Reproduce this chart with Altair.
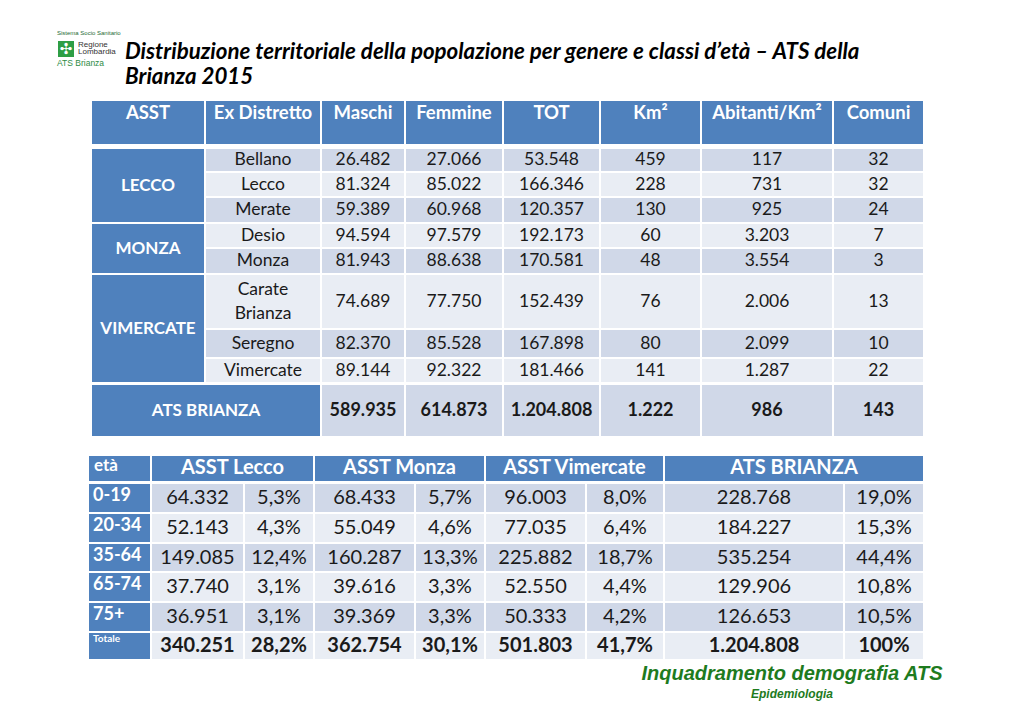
import altair as alt
import pandas as pd

# ------------------------------------------------------------------ data
top_headers = ["ASST", "Ex Distretto", "Maschi", "Femmine", "TOT", "Km²", "Abitanti/Km²", "Comuni"]
asst_groups = ["LECCO", "MONZA", "VIMERCATE"]
asst_group_rows = [(0, 3), (3, 5), (5, 8)]
districts = ["Bellano", "Lecco", "Merate", "Desio", "Monza", "Carate\nBrianza", "Seregno", "Vimercate"]
maschi = [26482, 81324, 59389, 94594, 81943, 74689, 82370, 89144]
femmine = [27066, 85022, 60968, 97579, 88638, 77750, 85528, 92322]
tot = [53548, 166346, 120357, 192173, 170581, 152439, 167898, 181466]
km2 = [459, 228, 130, 60, 48, 76, 80, 141]
abitanti_km2 = [117, 731, 925, 3203, 3554, 2006, 2099, 1287]
comuni = [32, 32, 24, 7, 3, 13, 10, 22]
ats_label = "ATS BRIANZA"
ats_totals = [589935, 614873, 1204808, 1222, 986, 143]

age_header = "età"
bottom_headers = ["ASST Lecco", "ASST Monza", "ASST Vimercate", "ATS BRIANZA"]
age_classes = ["0-19", "20-34", "35-64", "65-74", "75+"]
lecco_n = [64332, 52143, 149085, 37740, 36951]
lecco_p = [5.3, 4.3, 12.4, 3.1, 3.1]
monza_n = [68433, 55049, 160287, 39616, 39369]
monza_p = [5.7, 4.6, 13.3, 3.3, 3.3]
vimercate_n = [96003, 77035, 225882, 52550, 50333]
vimercate_p = [8.0, 6.4, 18.7, 4.4, 4.2]
ats_n = [228768, 184227, 535254, 129906, 126653]
ats_p = [19.0, 15.3, 44.4, 10.8, 10.5]
totale_label = "Totale"
totale_n = [340251, 362754, 501803, 1204808]
totale_p = [28.2, 30.1, 41.7, 100]

title_lines = ["Distribuzione territoriale della popolazione per genere e classi d’età – ATS della",
               "Brianza 2015"]
footer_main = "Inquadramento demografia ATS"
footer_sub = "Epidemiologia"


def fmt_int(v):
    return f"{v:,}".replace(",", ".")


def fmt_pct(v):
    if float(v).is_integer() and v >= 100:
        return f"{int(v)}%"
    return f"{v:.1f}".replace(".", ",") + "%"


# ------------------------------------------------------------------ layout
W, H = 1000, 700
BLUE = "#4F81BD"
DARK = "#D0D8E8"
LIGHT = "#E9EDF4"
INK = "#1a1a1a"
FONT = "Lato"
BODY_LH = 24

top_cols = [91, 205, 321, 405, 503, 600, 701, 833, 924]
top_head = (100, 145)
top_rows = [148, 172, 197, 223, 248, 274, 329, 358, 383]
top_total = (384, 437)

bot_cols = [88, 151, 244, 314, 415, 485, 586, 664, 844, 924]
bot_head = (455, 482)
bot_rows = [483, 513, 543, 572, 602, 632, 660]

X = alt.X("x:Q", scale=alt.Scale(domain=[8, 8 + W], nice=False, zero=False), axis=None)
Y = alt.Y("y:Q", scale=alt.Scale(domain=[8 + H, 8], nice=False, zero=False), axis=None)

rects = []


def add_rect(x1, x2, y1, y2, fill):
    rects.append({"x": x1, "x2": x2, "y": y1, "y2": y2, "fill": fill})


# top table header
for i in range(len(top_headers)):
    add_rect(top_cols[i], top_cols[i + 1], top_head[0], top_head[1], BLUE)
# group cells
for (r0, r1) in asst_group_rows:
    add_rect(top_cols[0], top_cols[1], top_rows[r0], top_rows[r1], BLUE)
# body cells
for r in range(len(districts)):
    fill = DARK if r % 2 == 0 else LIGHT
    for c in range(1, 8):
        add_rect(top_cols[c], top_cols[c + 1], top_rows[r], top_rows[r + 1], fill)
# total row
add_rect(top_cols[0], top_cols[2], top_total[0], top_total[1], BLUE)
for c in range(2, 8):
    add_rect(top_cols[c], top_cols[c + 1], top_total[0], top_total[1], DARK)

# bottom table header
add_rect(bot_cols[0], bot_cols[1], bot_head[0], bot_head[1], BLUE)
for g in range(4):
    add_rect(bot_cols[1 + 2 * g], bot_cols[3 + 2 * g], bot_head[0], bot_head[1], BLUE)
for r in range(len(age_classes) + 1):
    add_rect(bot_cols[0], bot_cols[1], bot_rows[r], bot_rows[r + 1], BLUE)
    fill = DARK if r % 2 == 0 else LIGHT
    for c in range(1, 9):
        add_rect(bot_cols[c], bot_cols[c + 1], bot_rows[r], bot_rows[r + 1], fill)

# logo square
add_rect(57, 75, 40, 58, "#2E9E45")

rect_layer = alt.Chart(pd.DataFrame(rects)).mark_rect(stroke="white", strokeWidth=2).encode(
    x=X, x2="x2:Q", y=Y, y2="y2:Q", fill=alt.Fill("fill:N", scale=None)
)

layers = [rect_layer]


def text_layer(items, **props):
    base = dict(font=FONT, baseline="middle", align="center", lineBreak="\n")
    base.update(props)
    df = pd.DataFrame(items, columns=["x", "y", "text"])
    return alt.Chart(df).mark_text(**base).encode(x=X, y=Y, text="text:N")


def cx(cols, i, span=1):
    return (cols[i] + cols[i + span]) / 2


def cy(rows, i, span=1):
    return (rows[i] + rows[i + span]) / 2


# top table texts
layers.append(text_layer([(cx(top_cols, i), 113, h) for i, h in enumerate(top_headers)],
                         fontSize=18.5, fontWeight="bold", color="white"))
layers.append(text_layer([(cx(top_cols, 0), cy(top_rows, r0, r1 - r0), g)
                          for g, (r0, r1) in zip(asst_groups, asst_group_rows)],
                         fontSize=17, fontWeight="bold", color="white"))
body = []
for r in range(len(districts)):
    y = cy(top_rows, r)
    nlines = districts[r].count("\n") + 1
    body.append((cx(top_cols, 1), y - (nlines - 1) * BODY_LH / 2, districts[r]))
    vals = [fmt_int(maschi[r]), fmt_int(femmine[r]), fmt_int(tot[r]),
            fmt_int(km2[r]), fmt_int(abitanti_km2[r]), fmt_int(comuni[r])]
    for c, v in enumerate(vals):
        body.append((cx(top_cols, c + 2), y, v))
layers.append(text_layer(body, fontSize=17.5, color=INK, lineHeight=BODY_LH))
ty = (top_total[0] + top_total[1]) / 2
layers.append(text_layer([(cx(top_cols, 0, 2), ty, ats_label)],
                         fontSize=17, fontWeight="bold", color="white"))
layers.append(text_layer([(cx(top_cols, c + 2), ty, fmt_int(v)) for c, v in enumerate(ats_totals)],
                         fontSize=18, fontWeight="bold", color=INK))

# bottom table texts
layers.append(text_layer([(94, 466, age_header)], fontSize=17, fontWeight="bold", color="white", align="left"))
layers.append(text_layer([(cx(bot_cols, 1 + 2 * g, 2), 468, h) for g, h in enumerate(bottom_headers)],
                         fontSize=20, fontWeight="bold", color="white"))
layers.append(text_layer([(93, cy(bot_rows, r) - 2, a) for r, a in enumerate(age_classes)],
                         fontSize=18, fontWeight="bold", color="white", align="left"))
layers.append(text_layer([(93, 639, totale_label)], fontSize=10, fontWeight="bold", color="white", align="left"))
bnums = []
series = [(lecco_n, lecco_p), (monza_n, monza_p), (vimercate_n, vimercate_p), (ats_n, ats_p)]
for r in range(len(age_classes)):
    y = cy(bot_rows, r)
    for g, (ns, ps) in enumerate(series):
        bnums.append((cx(bot_cols, 1 + 2 * g), y, fmt_int(ns[r])))
        bnums.append((cx(bot_cols, 2 + 2 * g), y, fmt_pct(ps[r])))
layers.append(text_layer(bnums, fontSize=20, color=INK))
yt = cy(bot_rows, len(age_classes))
tnums = []
for g in range(4):
    tnums.append((cx(bot_cols, 1 + 2 * g), yt, fmt_int(totale_n[g])))
    tnums.append((cx(bot_cols, 2 + 2 * g), yt, fmt_pct(totale_p[g])))
layers.append(text_layer(tnums, fontSize=20, fontWeight="bold", color=INK))

# title
layers.append(text_layer([(125, 52, title_lines[0]), (125, 77, title_lines[1])],
                         fontSize=22.3, fontWeight="bold", fontStyle="italic", color="black", align="left"))

# logo
layers.append(text_layer([(57, 33, "Sistema Socio Sanitario")], fontSize=6, color="#1d6b34", align="left",
                         font="Liberation Sans"))
layers.append(text_layer([(66, 49, "✣")], fontSize=15, color="white", font="DejaVu Sans"))
layers.append(text_layer([(78, 45, "Regione"), (78, 52, "Lombardia")], fontSize=8, color="#333333",
                         align="left", font="Liberation Sans"))
layers.append(text_layer([(57, 63, "ATS Brianza")], fontSize=8.5, color="#2E8B45", align="left",
                         font="Liberation Sans"))

# footer
layers.append(text_layer([(792, 674, footer_main)], fontSize=20, fontWeight="bold", fontStyle="italic",
                         color="#1E7B1E", font="Liberation Sans"))
layers.append(text_layer([(792, 694, footer_sub)], fontSize=12, fontWeight="bold", fontStyle="italic",
                         color="#1E7B1E", font="Liberation Sans"))

chart = alt.layer(*layers).properties(
    width=W, height=H, padding=0, autosize=alt.AutoSizeParams(type="none"), background="white"
).configure_view(stroke=None)

chart.save("out.html", embed_options={"renderer": "svg", "actions": False})
